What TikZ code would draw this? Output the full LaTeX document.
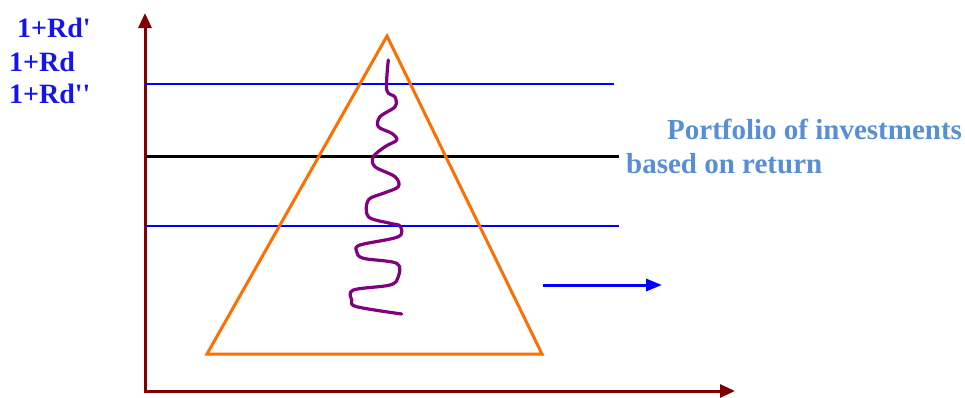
\documentclass[tikz,border=0pt]{standalone}
\usepackage{fontspec}
\setmainfont{Liberation Serif}[Ligatures=TeXOff]
\usetikzlibrary{arrows.meta}
\definecolor{axisred}{RGB}{128,0,0}
\definecolor{lblue}{RGB}{20,20,235}
\definecolor{pblue}{RGB}{88,142,212}
\definecolor{tri}{RGB}{255,110,0}
\definecolor{purp}{RGB}{128,0,128}
\tikzset{
  axis/.style={draw=axisred,line width=3pt,-{Triangle[length=15pt,width=13pt]}},
  hline/.style={draw=blue,line width=1.6pt},
  midline/.style={draw=black,line width=3pt},
  lbl/.style={text=lblue,font=\fontsize{28}{30}\selectfont\bfseries,inner sep=0pt,anchor=base west},
  ptxt/.style={text=pblue,font=\fontsize{29}{30}\selectfont\bfseries,inner sep=0pt,anchor=base west},
}
\begin{document}
\begin{tikzpicture}[x=1pt,y=-1pt]
\useasboundingbox (0,0) rectangle (965,397);
% axes
\coordinate (O) at (145,391);
\coordinate (Ytop) at (145,13);
\coordinate (Xend) at (735,391);
\draw[axis] (145,392.5) -- (Ytop);
\draw[axis] (O) -- (Xend);
% horizontal lines
\coordinate (h1a) at (145,84);
\coordinate (h1b) at (614,84);
\coordinate (h2a) at (146,156);
\coordinate (h2b) at (619,156);
\coordinate (h3a) at (146,226);
\coordinate (h3b) at (619,226);
\draw[hline] (h1a) -- (h1b);
\draw[midline] (h2a) -- (h2b);
\draw[hline] (h3a) -- (h3b);
% triangle
\coordinate (A) at (387,36);
\coordinate (B) at (207,354);
\coordinate (C) at (542,354);
\draw[tri,line width=3pt,line join=miter] (A) -- (B) -- (C) -- cycle;
% squiggle
\draw[purp,line width=3.2pt,line cap=round,line join=round] plot[smooth,tension=0.55] coordinates {
(388.3,60) (386.7,90) (395,97) (395,106.7) (380,116.7) (378.3,126.7) (391.7,133.3) (396.7,140) (385,146.7) (373.3,156.7) (375,166.7) (395,176.7) (398.3,186.7) (383.3,193.3) (368.3,200) (368.3,216.7) (390,223.3) (400,226) (398.3,236.7) (360,245) (356.7,251.7) (363.3,258.3) (396.7,263.3) (398.3,276.7) (390,285) (353.3,290) (351.7,300) (356.7,306.7) (401.7,314)};
% blue arrow
\coordinate (ba) at (543,285);
\coordinate (bb) at (662,285);
\draw[blue,line width=3pt,-{Triangle[length=16pt,width=12pt]}] (ba) -- (bb);
% labels
\node[lbl] (l1) at (17,37) {1+Rd'};
\node[lbl] (l2) at (9,71) {1+Rd};
\node[lbl] (l3) at (9,103) {1+Rd''};
\node[ptxt] (p1) at (667,139) {Portfolio of investments};
\node[ptxt] (p2) at (626,173) {based on return};
\end{tikzpicture}
\end{document}
